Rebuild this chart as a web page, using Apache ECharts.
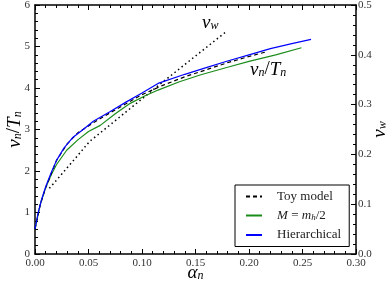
<!DOCTYPE html>
<html><head><meta charset="utf-8">
<script src="https://cdn.jsdelivr.net/npm/echarts@6/dist/echarts.min.js"></script>
<style>html,body{margin:0;padding:0;background:#fff}#c{width:390px;height:286px}</style>
</head><body><div id="c"></div>
<script>
// alpha_n values and v_n/T_n values
const hierX = [0, 0.003, 0.006, 0.01, 0.015, 0.02, 0.027, 0.035, 0.045, 0.0545, 0.07, 0.085, 0.1, 0.115, 0.14, 0.16, 0.18, 0.2, 0.22, 0.24, 0.258];
const hierY = [0.6, 1.0, 1.3, 1.62, 1.95, 2.25, 2.55, 2.8, 3.0, 3.2, 3.43, 3.66, 3.88, 4.11, 4.33, 4.49, 4.65, 4.8, 4.95, 5.07, 5.17];
const greenX = [0, 0.005, 0.01, 0.015, 0.02, 0.0296, 0.04, 0.05, 0.061, 0.075, 0.089, 0.102, 0.115, 0.135, 0.155, 0.18, 0.2, 0.225, 0.249];
const greenY = [0.6, 1.2, 1.6, 1.9, 2.15, 2.5, 2.75, 2.95, 3.1, 3.38, 3.63, 3.8, 3.95, 4.15, 4.32, 4.5, 4.64, 4.8, 4.97];
const toyX = [0, 0.005, 0.01, 0.02, 0.03, 0.04, 0.055, 0.07, 0.085, 0.1, 0.12, 0.14, 0.16, 0.18, 0.2, 0.216];
const toyY = [0.6, 1.2, 1.6, 2.25, 2.65, 2.92, 3.17, 3.4, 3.62, 3.84, 4.07, 4.27, 4.44, 4.61, 4.76, 4.87];
// wall velocity v_w (right axis)
const vwX = [0.0134, 0.02, 0.03, 0.04, 0.051, 0.07, 0.09, 0.114, 0.145, 0.179];
const vwY = [0.132, 0.148, 0.173, 0.198, 0.226, 0.259, 0.294, 0.336, 0.389, 0.447];
const names = ['Toy model', 'M = m_h/2', 'Hierarchical'];

const zip = (a, b) => a.map((v, i) => [v, b[i]]);
const serif = 'Liberation Serif';
const tickFont = {fontFamily: serif, fontSize: 11, color: '#333'};
const ax = {onZero: false, lineStyle: {color: '#000', width: 1.5}};
const tick = {inside: true, length: 5, lineStyle: {color: '#000'}};
const minor = {show: true, splitNumber: 5, length: 3, lineStyle: {color: '#000'}};
const rich = {
  i: {fontFamily: serif, fontStyle: 'italic', fontSize: 19, color: '#000'},
  n: {fontFamily: serif, fontSize: 19, color: '#000'},
  s: {fontFamily: serif, fontStyle: 'italic', fontSize: 12, color: '#000', verticalAlign: 'bottom', padding: [7, 0, 0, 0]}
};
const richL = {
  i: {fontFamily: serif, fontStyle: 'italic', fontSize: 13, color: '#222'},
  n: {fontFamily: serif, fontSize: 13, color: '#222'},
  s: {fontFamily: serif, fontStyle: 'italic', fontSize: 9, color: '#222', verticalAlign: 'bottom', padding: [5, 0, 0, 0]}
};

const chart = echarts.init(document.getElementById('c'), null, {renderer: 'canvas'});
chart.setOption({
  animation: false,
  backgroundColor: '#fff',
  grid: {left: 35, right: 34, top: 5, bottom: 32, containLabel: false, outerBoundsMode: 'none'},
  xAxis: [{
    type: 'value', min: 0, max: 0.3, interval: 0.05, position: 'bottom',
    axisLine: ax, splitLine: {show: false}, axisTick: tick, minorTick: minor,
    axisLabel: Object.assign({formatter: v => v.toFixed(2), margin: 4}, tickFont),
    name: '{i|α}{s|n}', nameLocation: 'middle', nameGap: 9, nameMoveOverlap: false,
    nameTextStyle: {rich: rich}
  }, {
    type: 'value', min: 0, max: 0.3, interval: 0.05, position: 'top',
    axisLine: ax, splitLine: {show: false}, axisTick: tick, minorTick: minor,
    axisLabel: {show: false}
  }],
  yAxis: [{
    type: 'value', min: 0, max: 6, interval: 1, position: 'left',
    axisLine: ax, splitLine: {show: false}, axisTick: tick, minorTick: minor,
    axisLabel: Object.assign({margin: 5}, tickFont),
    name: '{i|v}{s|n}{n|/}{i|T}{s|n}', nameLocation: 'middle', nameGap: 11, nameRotate: 90, nameMoveOverlap: false,
    nameTextStyle: {rich: rich}
  }, {
    type: 'value', min: 0, max: 0.5, interval: 0.1, position: 'right',
    axisLine: ax, splitLine: {show: false}, axisTick: tick, minorTick: minor,
    axisLabel: Object.assign({formatter: v => v.toFixed(1), margin: 2}, tickFont),
    name: '{i|v}{s|w}', nameLocation: 'middle', nameGap: 14, nameRotate: 90, nameMoveOverlap: false,
    nameTextStyle: {rich: rich}
  }],
  legend: {
    orient: 'vertical', left: 235, top: 185,
    padding: [5, 8, 5, 10], itemGap: 6, itemWidth: 16, itemHeight: 12,
    borderColor: '#000', borderWidth: 1, backgroundColor: '#fff', borderRadius: 0,
    data: names,
    itemStyle: {opacity: 0},
    formatter: n => n === names[1] ? '{i|M} {n|=} {i|m}{s|h}{n|/2}' : '{n|' + n + '}',
    textStyle: {rich: richL, padding: [0, 0, 0, 10]}
  },
  series: [
    {name: names[0], type: 'line', data: zip(toyX, toyY), showSymbol: false, symbol: 'none',
     lineStyle: {color: '#000', width: 1.2, type: [4, 3]}, itemStyle: {color: '#000'}, z: 4},
    {name: names[1], type: 'line', data: zip(greenX, greenY), showSymbol: false, symbol: 'none',
     lineStyle: {color: '#1a8c1a', width: 1.2}, itemStyle: {color: '#1a8c1a'}, z: 3},
    {name: names[2], type: 'line', data: zip(hierX, hierY), showSymbol: false, symbol: 'none',
     lineStyle: {color: '#0000ff', width: 1.2}, itemStyle: {color: '#0000ff'}, z: 5},
    {name: 'vw', type: 'line', yAxisIndex: 1, data: zip(vwX, vwY), showSymbol: false, symbol: 'none',
     lineStyle: {color: '#000', width: 1.5, type: [1.5, 3]}, z: 2}
  ],
  graphic: [
    {type: 'text', left: 202, top: 13, style: {text: '{i|v}{s|w}', rich: rich}},
    {type: 'text', left: 250, top: 60, style: {text: '{i|v}{s|n}{n|/}{i|T}{s|n}', rich: rich}}
  ]
});
</script></body></html>
